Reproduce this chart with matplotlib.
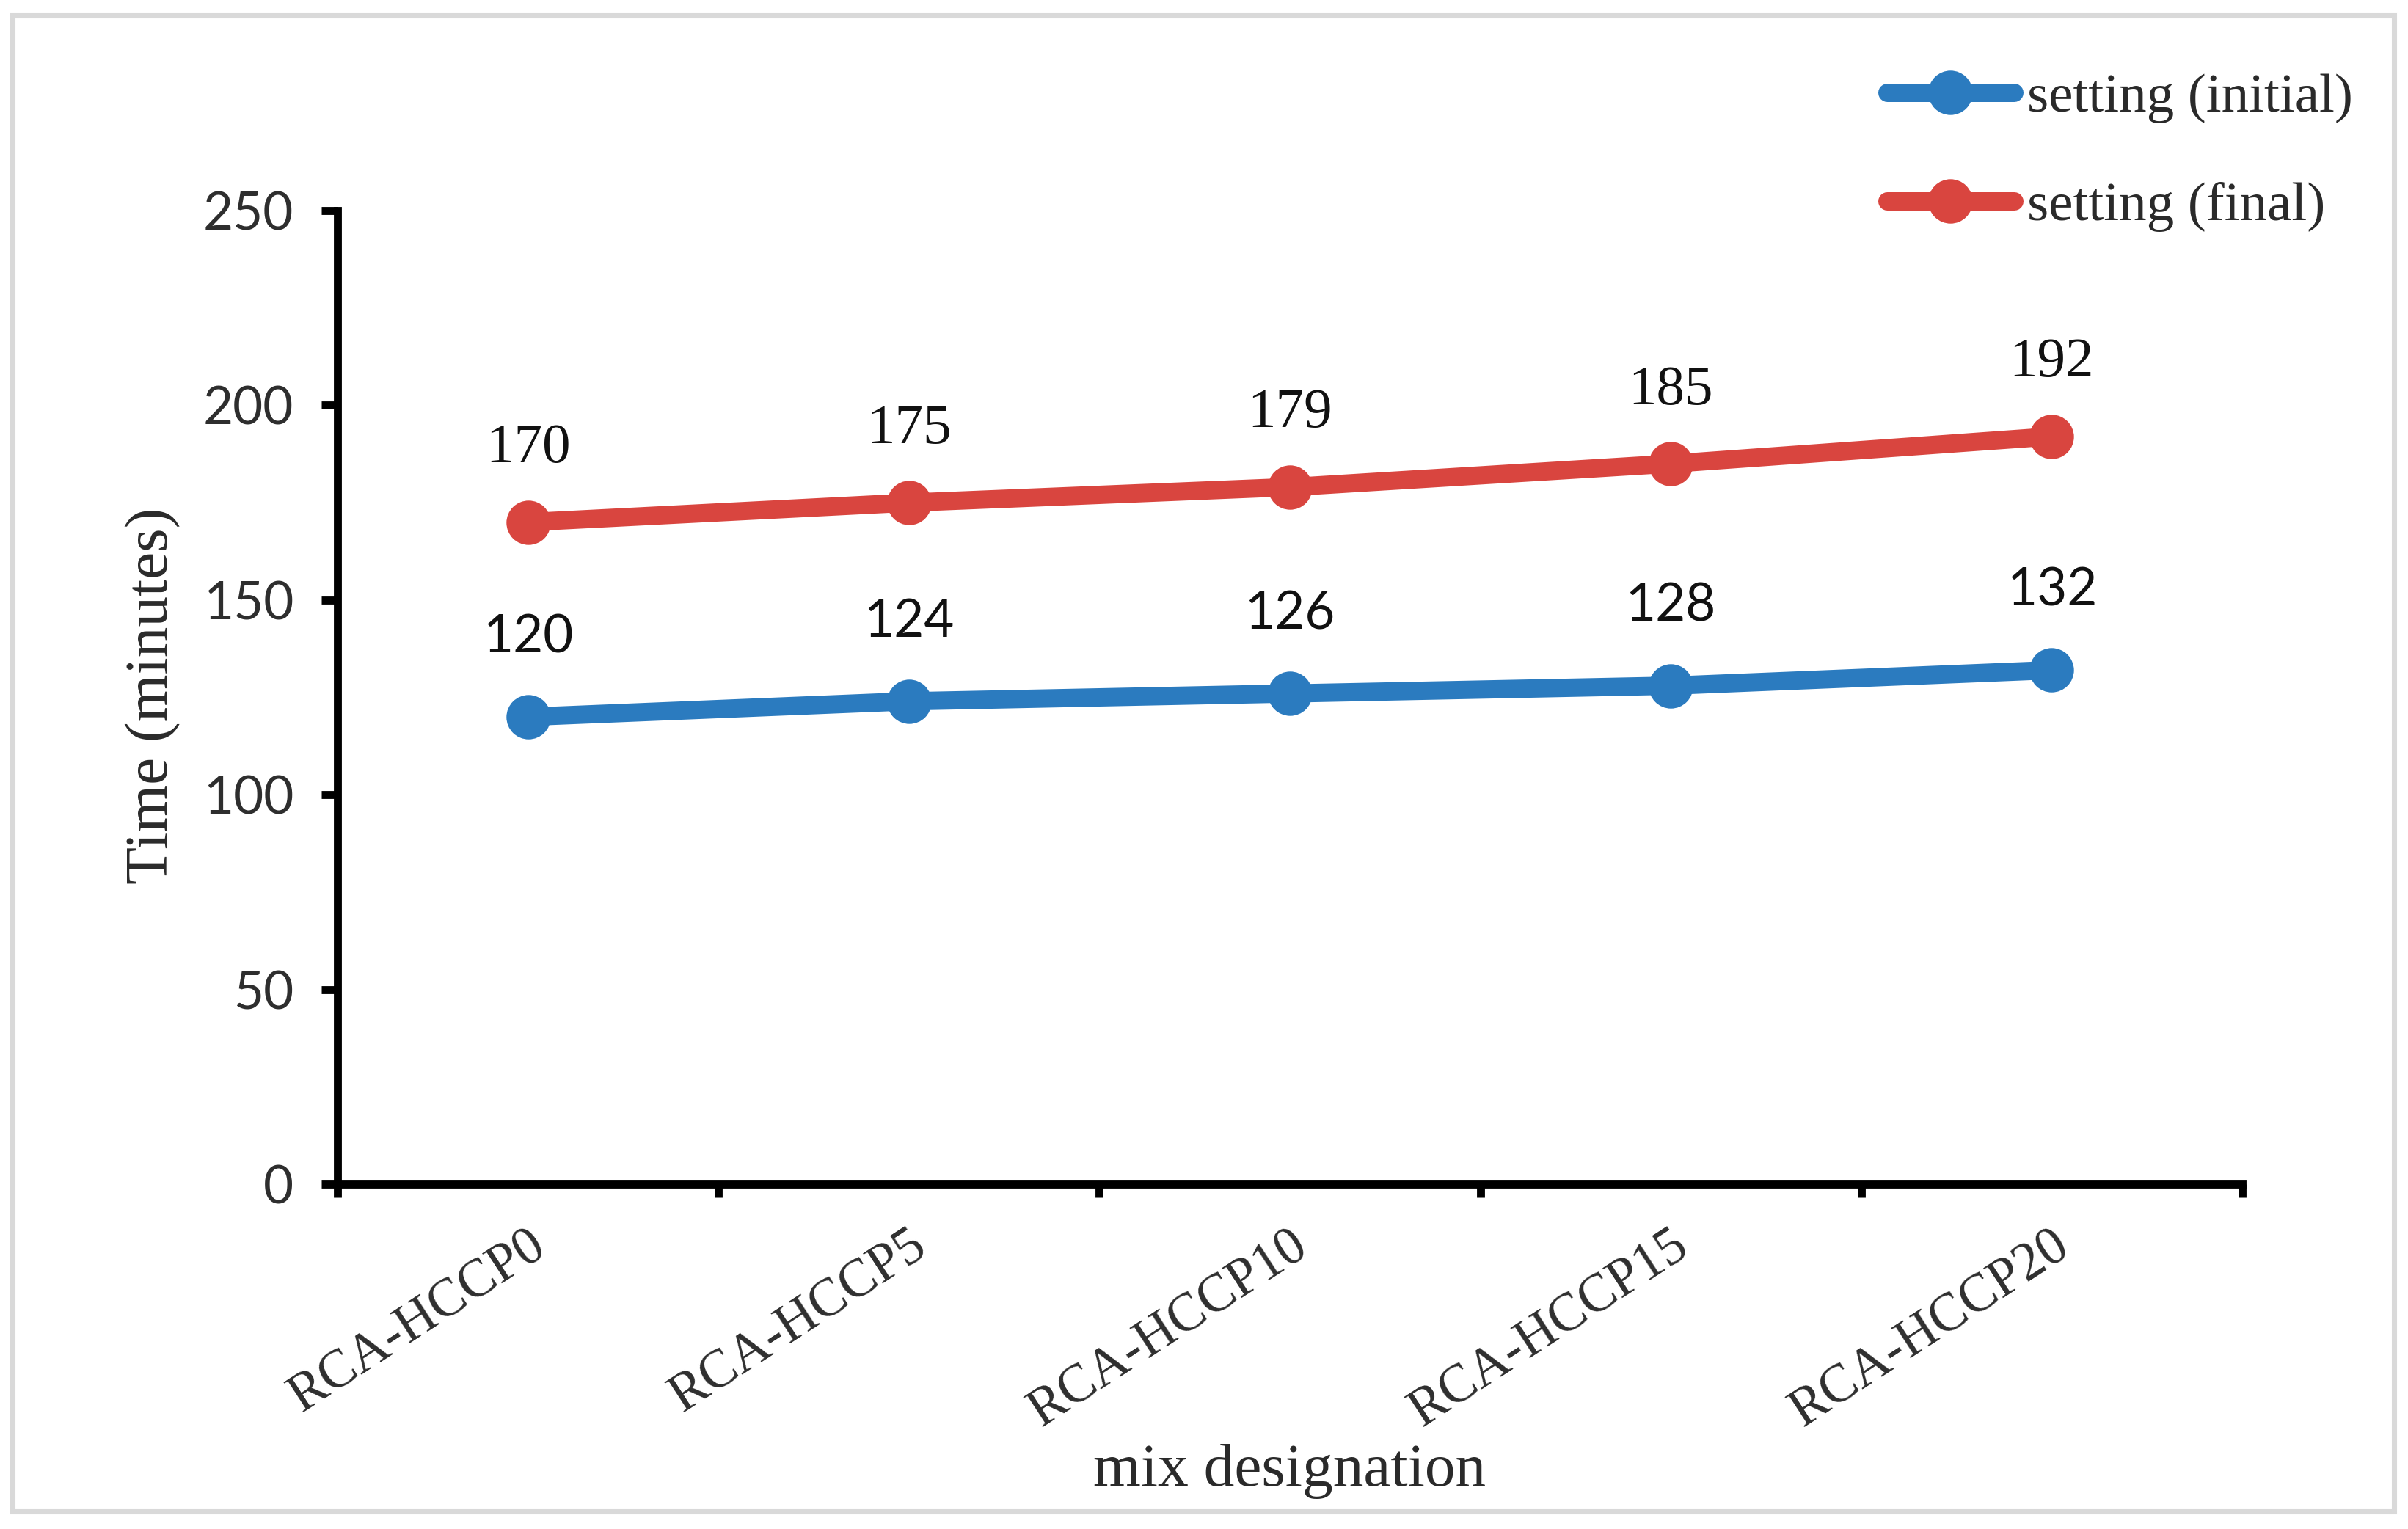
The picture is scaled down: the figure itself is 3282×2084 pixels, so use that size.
import matplotlib
matplotlib.use('Agg')
import matplotlib.pyplot as plt
from matplotlib.patches import Rectangle

# Data
mixes = ['RCA-HCCP0', 'RCA-HCCP5', 'RCA-HCCP10', 'RCA-HCCP15', 'RCA-HCCP20']
setting_initial = [120, 124, 126, 128, 132]
setting_final = [170, 175, 179, 185, 192]
y_ticks = [0, 50, 100, 150, 200, 250]

W, H, DPI = 3282, 2084, 300
serif = 'Liberation Serif'
sans = 'Lato'
blue = '#2b7bbf'
red = '#d9453f'

fig = plt.figure(figsize=(W / DPI, H / DPI), dpi=DPI)

# Light grey frame around the whole picture
fig.patches.append(Rectangle((17 / W, 1 - 2060 / H), (3263 - 17) / W, (2060 - 21) / H,
                             transform=fig.transFigure, fill=False,
                             edgecolor='#d9d9d9', linewidth=1.7))

ax = fig.add_axes([460 / W, 1 - 1614 / H, (3056 - 460) / W, (1614 - 287) / H])

x = list(range(len(mixes)))
ax.plot(x, setting_initial, '-o', color=blue, lw=6, ms=13.5, label='setting (initial)',
        solid_capstyle='round', zorder=3)
ax.plot(x, setting_final, '-o', color=red, lw=6, ms=13.5, label='setting (final)',
        solid_capstyle='round', zorder=3)

# Data labels: initial in sans, final in serif (as in the original)
for xi, v in zip(x, setting_initial):
    ax.annotate(str(v), (xi, v), xytext=(0, 26), textcoords='offset points',
                ha='center', va='center', fontsize=17, family=sans, color='#111111')
for xi, v in zip(x, setting_final):
    ax.annotate(str(v), (xi, v), xytext=(0, 24), textcoords='offset points',
                ha='center', va='center', fontsize=18.5, family=serif, color='#111111')

# Axes styling
ax.set_xlim(-0.5, len(mixes) - 0.5)
ax.set_ylim(0, 250)
ax.set_yticks(y_ticks)
ax.set_yticklabels([str(t) for t in y_ticks], family=sans, fontsize=17, color='#2e2e2e')
ax.set_xticks([i - 0.5 for i in range(len(mixes) + 1)])
ax.set_xticklabels([])
ax.set_xticks(x, minor=True)
ax.set_xticklabels(mixes, minor=True, rotation=33, ha='right', va='top',
                   rotation_mode='anchor', family=serif, fontsize=17.5, color='#2e2e2e')

for side in ['top', 'right']:
    ax.spines[side].set_visible(False)
for side in ['left', 'bottom']:
    ax.spines[side].set_linewidth(2.6)
    ax.spines[side].set_color('black')

ax.tick_params(axis='y', which='major', direction='out', length=5.3, width=2.6, pad=9)
ax.tick_params(axis='x', which='major', direction='out', length=4.3, width=2.6)
ax.tick_params(axis='x', which='minor', length=0, pad=12)

# Axis titles
fig.text(209 / W, 1 - 948 / H, 'Time (minutes)', rotation=90, ha='center', va='center',
         family=serif, fontsize=20, color='#2a2a2a')
fig.text(1758 / W, 1 - 2005 / H, 'mix designation', ha='center', va='center',
         family=serif, fontsize=20, color='#2a2a2a')

# Legend at the top right, outside the axes
fig.legend(loc='upper left', bbox_to_anchor=(2572 / W, 1 - 100 / H), frameon=False,
           prop={'family': serif, 'size': 18}, handlelength=2.3, handletextpad=0.25,
           labelspacing=1.05, borderpad=0, borderaxespad=0, labelcolor='#2a2a2a')

fig.savefig('out.png', dpi=DPI)
